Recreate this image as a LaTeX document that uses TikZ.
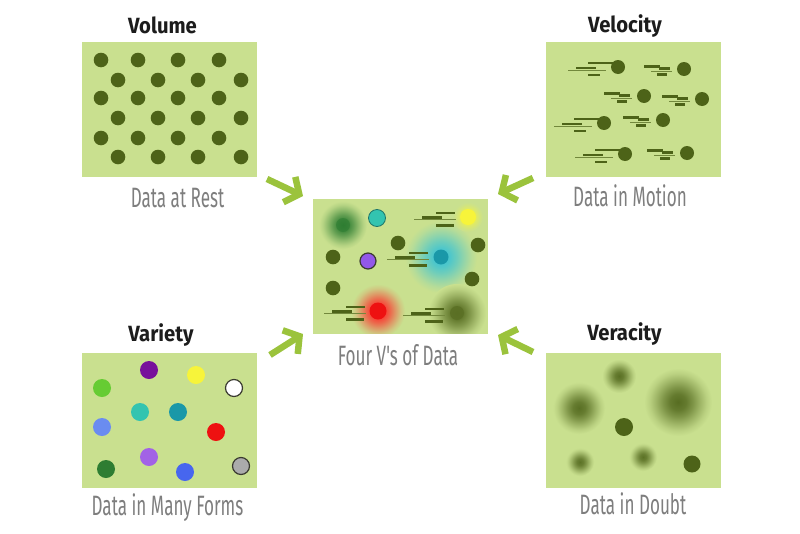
\documentclass[tikz,border=0pt]{standalone}
\usepackage{fontspec}
\setmainfont{Fira Sans}
\newfontfamily\titlefont{Fira Sans}[FakeStretch=0.92]
\newfontfamily\capfont{Fira Sans}[FakeStretch=0.61]
\usetikzlibrary{arrows.meta}
\definecolor{boxc}{HTML}{C9E08F}
\definecolor{dotc}{HTML}{4D6318}
\definecolor{arrc}{HTML}{9BC33C}
\definecolor{capc}{HTML}{7E7E7E}
\definecolor{titc}{HTML}{1C1C1C}
\definecolor{vpurple}{HTML}{77119B}
\definecolor{vyellow}{HTML}{F7F43A}
\definecolor{vlgreen}{HTML}{66CC33}
\definecolor{vteal}{HTML}{33C4B0}
\definecolor{vtealb}{HTML}{1A98A8}
\definecolor{vperi}{HTML}{6A8CF0}
\definecolor{vred}{HTML}{EE1111}
\definecolor{vdgreen}{HTML}{2E7D32}
\definecolor{vlav}{HTML}{A262E6}
\definecolor{vblue}{HTML}{4766EE}
\definecolor{vgray}{HTML}{ABABAB}
\definecolor{ring}{HTML}{3A3A30}
\definecolor{cyanglow}{HTML}{3CC3D3}
\colorlet{glowc}{red}
\pgfdeclareradialshading[glowc]{glow}{\pgfpointorigin}{%
  color(0bp)=(glowc); color(6bp)=(glowc!88!boxc); color(11bp)=(glowc!65!boxc);
  color(16bp)=(glowc!38!boxc); color(21bp)=(glowc!13!boxc); color(25bp)=(boxc); color(50bp)=(boxc)}
\tikzset{
  panel/.style={fill=boxc, draw=none, minimum width=175pt, minimum height=135pt, inner sep=0pt},
  title/.style={font=\titlefont\bfseries\fontsize{22}{26}\selectfont, anchor=base, text=titc, inner sep=0pt},
  caption/.style={font=\capfont\fontsize{28}{32}\selectfont, anchor=base, text=capc, inner sep=0pt},
  sthick/.style={draw=dotc, line width=2.2pt},
  sthin/.style={draw=dotc!70!boxc, line width=1.2pt},
  bigarrow/.style={draw=arrc, line width=6.5pt, -{Straight Barb[length=11pt,width=28pt]}},
  glowing/.code={\colorlet{glowc}{#1}\pgfkeysalso{/tikz/shading=glow}},
  streakA/.pic={
    \draw[sthick] (-30,-4) -- (-2,-4);
    \draw[sthick] (-42,1) -- (-22,1);
    \draw[sthin] (-50,3.5) -- (-12,3.5);
    \draw[sthick] (-30,8) -- (-18,8);
  },
  streakB/.pic={
    \draw[sthick] (-40,-2.5) -- (-24,-2.5);
    \draw[sthick] (-25,-0.5) -- (-14,-0.5);
    \draw[sthin] (-33,2.5) -- (-12,2.5);
    \draw[sthick] (-27,5.5) -- (-17,5.5);
  },
  streakC/.pic={
    \draw[sthick] (-32,-4) -- (-13,-4);
    \draw[sthick] (-46,0.5) -- (-26,0.5);
    \draw[sthin] (-54,2.5) -- (-12,2.5);
    \draw[sthick] (-32,8.5) -- (-14,8.5);
  }
}
\begin{document}
\begin{tikzpicture}[x=1pt,y=-1pt]
\useasboundingbox (0,0) rectangle (800,533);
\fill[white] (0,0) rectangle (800,533);

% panels
\node[panel] (vol) at (169.5,109.5) {};
\node[panel] (vel) at (633.5,109.5) {};
\node[panel] (four) at (400.5,266) {};
\node[panel] (var) at (169.5,420.5) {};
\node[panel] (ver) at (633.5,420.5) {};

% titles and captions
\node[title] (tvol) at (162.5,33.3) {Volume};
\node[title] (tvel) at (625,32.7) {Velocity};
\node[title] (tvar) at (161,341) {Variety};
\node[title] (tver) at (624.5,340.7) {Veracity};
\node[caption] (cvol) at (177.5,207) {Data at Rest};
\node[caption] (cvel) at (630,206.7) {Data in Motion};
\node[caption] (cfour) at (398,365.7) {Four V's of Data};
\node[caption] (cvar) at (167.5,515) {Data in Many Forms};
\node[caption] (cver) at (633,514) {Data in Doubt};

% Volume dots
\foreach \y in {60,98,138}{
  \foreach \x in {101,138,178,219}{\fill[dotc] (\x,\y) circle (7.3pt);}}
\foreach \y in {80,118,157}{
  \foreach \x in {118,158,198,241}{\fill[dotc] (\x,\y) circle (7.3pt);}}

% Velocity
\foreach \x/\y in {618/67,604/123,625/154}{
  \pic at (\x,\y) {streakA};
  \fill[dotc] (\x,\y) circle (7pt);}
\foreach \x/\y in {684/69,644/96,702/99,663/120,687/153}{
  \pic at (\x,\y) {streakB};
  \fill[dotc] (\x,\y) circle (7pt);}

% Four V's
\begin{scope}
  \clip (four.north west) rectangle (four.south east);
  \shade[glowing=vdgreen] (343,225) circle (24pt);
  \shade[glowing=cyanglow] (441,257) circle (36pt);
  \shade[glowing=red!85!white] (378,311) circle (27pt);
  \shade[glowing=dotc!90!boxc] (457,313) circle (29pt);
  \shade[glowing=vyellow] (468,217) circle (15pt);
  \fill[vdgreen, opacity=0.6] (343,225) circle (7pt);
  \fill[vteal, draw=vteal!60!black, line width=0.8pt] (377,218) circle (8.5pt);
  \fill[vyellow] (468,217) circle (8pt);
  \fill[vlav!90!blue, draw=ring, line width=1.2pt] (368,261) circle (8pt);
  \foreach \x/\y in {398/243,333/257,478/245,333/288,472/279}{
    \fill[dotc] (\x,\y) circle (7.3pt);}
  \pic at (468,217) {streakC};
  \pic at (441,257) {streakC};
  \pic at (378,311) {streakC};
  \pic at (457,313) {streakC};
  \fill[vtealb] (441,257) circle (7.5pt);
  \fill[vred] (378,311) circle (8.5pt);
  \fill[dotc!90!boxc, opacity=0.8] (457,313) circle (7pt);
\end{scope}

% Variety
\fill[vpurple] (149,370) circle (9pt);
\fill[vyellow] (196,375) circle (9pt);
\fill[vlgreen] (102,388) circle (9pt);
\filldraw[fill=white, draw=ring, line width=1.2pt] (234,388) circle (8.5pt);
\fill[vteal] (140,412) circle (9pt);
\fill[vtealb] (178,412) circle (9pt);
\fill[vperi] (102,427) circle (9pt);
\fill[vred] (216,432) circle (9pt);
\fill[vdgreen] (106,469) circle (9pt);
\fill[vlav] (149,457) circle (9pt);
\fill[vblue] (185,472) circle (9pt);
\filldraw[fill=vgray, draw=ring, line width=1.2pt] (241,466) circle (8.5pt);

% Veracity
\begin{scope}
  \clip (ver.north west) rectangle (ver.south east);
  \shade[glowing=dotc!90!boxc] (619,376) circle (17pt);
  \shade[glowing=dotc!90!boxc] (579,408) circle (26pt);
  \shade[glowing=dotc!92!boxc] (678,402) circle (34pt);
  \shade[glowing=dotc!88!boxc] (580,462) circle (14pt);
  \shade[glowing=dotc!88!boxc] (643,457) circle (14pt);
  \fill[dotc] (624,427) circle (9pt);
  \fill[dotc] (692,464) circle (8.5pt);
\end{scope}

% arrows
\coordinate (a1s) at (267,179); \coordinate (a1e) at (303,196);
\coordinate (a2s) at (533,178); \coordinate (a2e) at (498,194);
\coordinate (a3s) at (270,355); \coordinate (a3e) at (303,334);
\coordinate (a4s) at (533,352); \coordinate (a4e) at (498,335);
\draw[bigarrow] (a1s) -- (a1e);
\draw[bigarrow] (a2s) -- (a2e);
\draw[bigarrow] (a3s) -- (a3e);
\draw[bigarrow] (a4s) -- (a4e);
\end{tikzpicture}
\end{document}
